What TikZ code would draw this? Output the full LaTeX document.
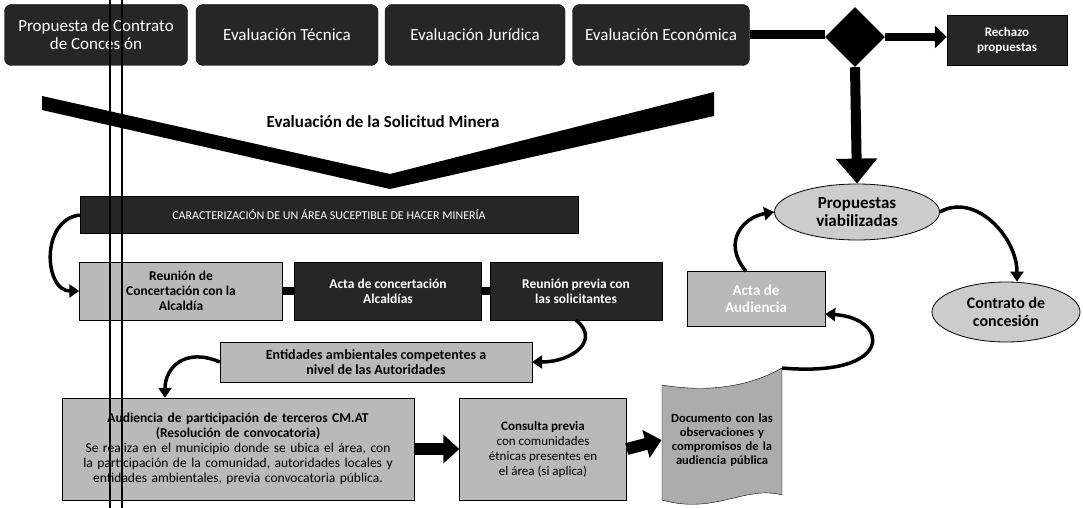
\documentclass[tikz,border=0pt]{standalone}
\usepackage{fontspec}
\setmainfont{Carlito}
\usetikzlibrary{shapes.geometric, arrows.meta, positioning}

\tikzset{
  etapa/.style={draw=black, fill=black!85, text=white, rounded corners=7pt, minimum height=61pt, align=center, inner sep=2pt, font=\fontsize{17}{18}\selectfont},
  oscura/.style={draw=black, fill=black!85, text=white, align=center, inner sep=2pt, font=\fontsize{13.5}{15}\selectfont\bfseries},
  gris/.style={draw=black, fill=gray!55, align=center, inner sep=2pt, font=\fontsize{13.5}{15}\selectfont\bfseries},
  globo/.style={ellipse, draw=black, thick, fill=gray!40, align=center, inner sep=0pt, font=\fontsize{17}{18}\selectfont\bfseries},
  flujo/.style={line width=12pt, -{Triangle[length=16pt, width=28pt]}},
  giro/.style={line width=3.5pt, -{Triangle[length=10pt, width=13pt]}},
}

\begin{document}
\begin{tikzpicture}[x=1pt, y=-1pt]
    \useasboundingbox (0,0) rectangle (1083,508);
    % etapas de evaluacion
    \node[etapa, minimum width=183pt] (propuesta) at (96,35) {Propuesta de Contrato\\de Concesión};
    \node[etapa, minimum width=182pt] (tecnica) at (287,35) {Evaluación Técnica};
    \node[etapa, minimum width=180pt] (juridica) at (475,35) {Evaluación Jurídica};
    \node[etapa, minimum width=177pt] (economica) at (661,35) {Evaluación Económica};
    % decision y rechazo
    \node[diamond, aspect=1, fill=black, minimum size=60pt, inner sep=0pt] (decision) at (855,37) {};
    \node[oscura, minimum width=120pt, minimum height=50pt, font=\fontsize{13}{15}\selectfont\bfseries] (rechazo) at (1007,40) {Rechazo\\propuestas};
    \draw[line width=9pt] (economica.east) -- (economica.east -| decision.west);
    \draw[line width=8pt, -{Triangle[length=12pt, width=22pt]}] (decision.east) -- (decision.east -| rechazo.west);
    % gran flecha en V
    \fill (42,96) -- (390,174) -- (714,92) -- (714,116) -- (390,189) -- (42,110) -- cycle;
    \node[font=\fontsize{17}{18}\selectfont\bfseries] (titulo) at (383,122) {Evaluación de la Solicitud Minera};
    % caracterizacion del area
    \node[oscura, minimum width=498pt, minimum height=37pt, font=\fontsize{12}{14}\selectfont] (caracter) at (329,215) {CARACTERIZACIÓN DE UN ÁREA SUCEPTIBLE DE HACER MINERÍA};
    \node[gris, minimum width=203pt, minimum height=58pt] (reunion) at (181,291) {Reunión de\\Concertación con la\\Alcaldía};
    \node[oscura, minimum width=187pt, minimum height=58pt] (acta) at (388,291) {Acta de concertación\\Alcaldías};
    \node[oscura, minimum width=172pt, minimum height=58pt] (previa) at (576,291) {Reunión previa con\\las solicitantes};
    \draw[line width=8pt] (reunion) -- (acta);
    \draw[line width=8pt] (acta) -- (previa);
    \node[gris, minimum width=312pt, minimum height=40pt, font=\fontsize{14}{15}\selectfont\bfseries] (entidades) at (376,362) {Entidades ambientales competentes a\\nivel de las Autoridades};
    % audiencia y documento
    \node[gris, minimum width=352pt, minimum height=102pt, text width=340pt, font=\fontsize{13.5}{15}\selectfont] (audiencia) at (238,449) {\textbf{Audiencia de participación de terceros CM.AT}\\\textbf{(Resolución de convocatoria)}\\Se realiza en el municipio donde se ubica el área, con\\la participación de la comunidad, autoridades locales y\\entidades ambientales, previa convocatoria pública.};
    \node[gris, minimum width=167pt, minimum height=102pt, font=\fontsize{13}{15}\selectfont] (consulta) at (543,449) {\textbf{Consulta previa}\\con comunidades\\étnicas presentes en\\el área (si aplica)};
    \filldraw[fill=gray!65, draw=black] (662,385) .. controls (710,393) and (750,386) .. (782,368) -- (782,495) .. controls (745,485) and (715,515) .. (662,500) -- cycle;
    \coordinate (esquina) at (782,368);
    \node[minimum width=120pt, minimum height=110pt, text width=114pt, align=center, font=\fontsize{12.5}{14}\selectfont\bfseries] (documento) at (722,440) {Documento con las observaciones y compromisos de la audiencia pública};
    \draw[flujo] (audiencia.east) -- (consulta.west);
    \draw[flujo] (consulta.east) -- (documento.west);
    % propuestas viabilizadas y contrato
    \node[gris, text=white, minimum width=138pt, minimum height=55pt, font=\fontsize{15}{17}\selectfont\bfseries] (actaaud) at (756,299) {Acta de\\Audiencia};
    \node[globo, minimum width=165pt, minimum height=56pt] (viables) at (857,212) {Propuestas\\viabilizadas};
    \node[globo, minimum width=148pt, minimum height=60pt, font=\fontsize{16}{18}\selectfont\bfseries] (contrato) at (1006,312) {Contrato de\\concesión};
    \draw[line width=10pt, -{Triangle[length=25pt, width=40pt]}] (decision.south) -- (viables.north);
    % flechas curvas
    \draw[giro] (caracter.west) .. controls +(-40,5) and +(-35,0) .. (reunion.west);
    \draw[giro] (previa.south) .. controls +(25,20) and +(40,0) .. (entidades.east);
    \draw[giro] (entidades.west) .. controls +(-35,-15) and +(0,-30) .. ([xshift=-73pt]audiencia.north);
    \draw[giro] (esquina) .. controls (895,378) and (890,318) .. ([yshift=-15pt]actaaud.east);
    \draw[giro] ([xshift=-10pt]actaaud.north) .. controls +(-25,-30) and +(-30,5) .. (viables.west);
    \draw[giro] (viables.east) .. controls +(35,-20) and +(0,-45) .. ([xshift=11pt]contrato.north);
    % doble linea vertical del escaneo
    \draw[line width=1.2pt] (110,0) -- (110,508);
    \draw[line width=1.2pt] (122,0) -- (122,508);
\end{tikzpicture}
\end{document}
